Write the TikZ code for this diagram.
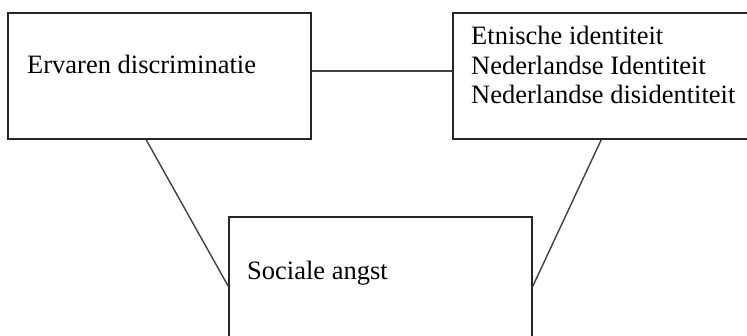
\documentclass[tikz,border=0pt]{standalone}
\usepackage{fontspec}
\setmainfont{Liberation Serif}
\usetikzlibrary{positioning}

\begin{document}
\begin{tikzpicture}[
  x=1pt, y=1pt,
  box/.style={draw=black!85, line width=1.6pt, minimum width=303pt, minimum height=126pt, inner sep=0pt},
  lbl/.style={inner sep=0pt, align=left, font=\fontsize{26.5}{29.5}\selectfont},
  link/.style={draw=black!75, line width=1.4pt}
]
\useasboundingbox (0,0) rectangle (747,-336);
\clip (0,0) rectangle (747,-336);
\node[box] (discr) at (159.5,-76) {};
\node[box, minimum width=320pt] (ident) at (613,-76) {};
\node[box, minimum height=135pt] (angst) at (380.5,-284.5) {};
\node[lbl, anchor=base west] (discrtxt) at (27,-74) {Ervaren discriminatie};
\node[lbl, anchor=base west] (identtxt) at (471,-104) {Etnische identiteit\\Nederlandse Identiteit\\Nederlandse disidentiteit};
\node[lbl, anchor=base west] (angsttxt) at (247,-280) {Sociale angst};
\draw[link] ([yshift=5pt]discr.east) -- ([yshift=5pt]discr.east -| ident.west);
\draw[link] ([xshift=139pt]discr.south west) -- ([yshift=-70pt]angst.north west);
\draw[link] ([xshift=149pt]ident.south west) -- ([yshift=-70pt]angst.north east);
\end{tikzpicture}
\end{document}
